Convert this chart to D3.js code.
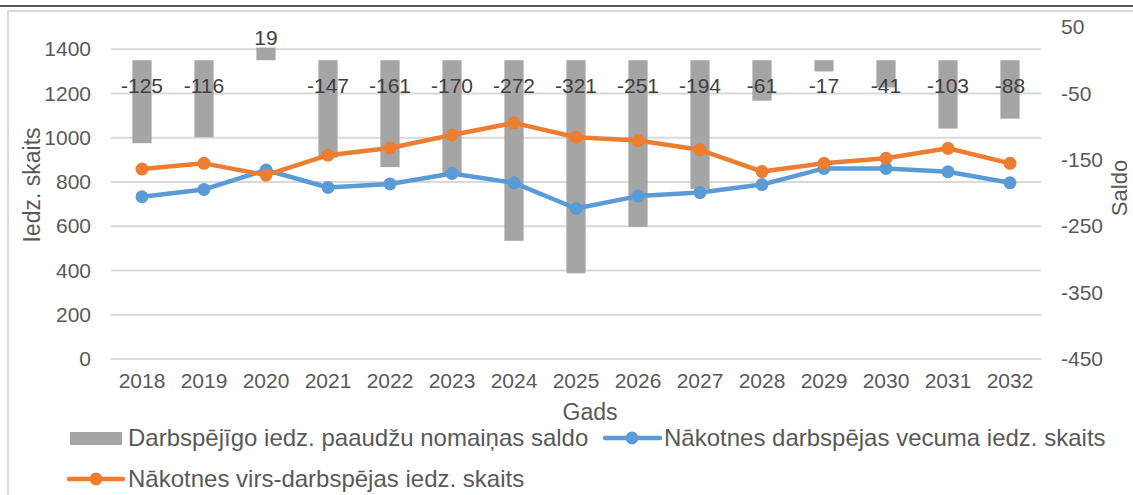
<!DOCTYPE html>
<html><head><meta charset="utf-8">
<script src="https://cdn.jsdelivr.net/npm/d3@7"></script>
<style>
html,body{margin:0;padding:0;background:#fff;}
svg{display:block;font-family:"Liberation Sans",Arial,sans-serif;}
</style></head>
<body><svg id="c" width="1133" height="495"></svg>
<script>
const years = ["2018","2019","2020","2021","2022","2023","2024","2025","2026","2027","2028","2029","2030","2031","2032"];
const saldo = [-125,-116,19,-147,-161,-170,-272,-321,-251,-194,-61,-17,-41,-103,-88];
const darbspejas = [733,766,854,775,791,838,796,680,736,752,788,861,861,846,796];
const virsDarbspejas = [858,884,831,921,953,1012,1067,1002,987,945,847,884,907,952,884];
const leftTicks = [0,200,400,600,800,1000,1200,1400];
const rightTicks = [50,-50,-150,-250,-350,-450];
const names = {
  bar: "Darbspējīgo iedz. paaudžu nomaiņas saldo",
  blue: "Nākotnes darbspējas vecuma iedz. skaits",
  orange: "Nākotnes virs-darbspējas iedz. skaits"
};

const svg = d3.select("#c");
const grey = "#a5a5a5", blue = "#5b9bd5", orange = "#ed7d31";
const txt = "#595959";
const fmt = d => String(d);
const tf = 21, tt = 23;

// chart frame
svg.append("rect").attr("x",8).attr("y",11).attr("width",1140).attr("height",500)
  .attr("fill","none").attr("stroke","#d9d9d9").attr("stroke-width",2);
svg.append("line").attr("x1",0).attr("x2",1133).attr("y1",6).attr("y2",6)
  .attr("stroke","#555").attr("stroke-width",2);

const x = d3.scaleBand().domain(years).range([111,1041]).padding(0);
const yL = d3.scaleLinear().domain([0,1500]).range([359,27]);
const yR = d3.scaleLinear().domain([-450,50]).range([359,27]);
const bw = x.bandwidth()*0.31;
const cx = d => x(d)+x.bandwidth()/2;

// gridlines
svg.append("g").selectAll("line").data(leftTicks).join("line")
  .attr("x1",x.range()[0]).attr("x2",x.range()[1])
  .attr("y1",d=>yL(d)).attr("y2",d=>yL(d))
  .attr("stroke","#d9d9d9").attr("stroke-width",2);

// left axis labels
const axL = svg.append("g").attr("transform","translate(91,0)")
  .call(d3.axisLeft(yL).tickValues(leftTicks).tickFormat(fmt).tickSize(0).tickPadding(0));
axL.select(".domain").remove();
axL.selectAll("text").attr("font-size",tf).attr("fill",txt).attr("font-family","Liberation Sans, Arial");

// right axis labels
const axR = svg.append("g").attr("transform","translate(1061,0)")
  .call(d3.axisRight(yR).tickValues(rightTicks).tickFormat(fmt).tickSize(0).tickPadding(0));
axR.select(".domain").remove();
axR.selectAll("text").attr("font-size",tf).attr("fill",txt).attr("font-family","Liberation Sans, Arial");

// x axis labels
const axX = svg.append("g").attr("transform","translate(0,373)")
  .call(d3.axisBottom(x).tickSize(0).tickPadding(0));
axX.select(".domain").remove();
axX.selectAll("text").attr("font-size",tf).attr("fill",txt).attr("font-family","Liberation Sans, Arial");

// bars
svg.append("g").selectAll("rect").data(years).join("rect")
  .attr("x",d=>cx(d)-bw/2).attr("width",bw)
  .attr("y",(d,i)=>Math.min(yR(0),yR(saldo[i])))
  .attr("height",(d,i)=>Math.abs(yR(saldo[i])-yR(0)))
  .attr("fill",grey);

// lines
function series(vals,color){
  const line = d3.line().x((d,i)=>cx(years[i])).y(d=>yL(d));
  svg.append("path").datum(vals).attr("d",line).attr("fill","none")
    .attr("stroke",color).attr("stroke-width",4.5).attr("stroke-linejoin","round").attr("stroke-linecap","round");
  svg.append("g").selectAll("circle").data(vals).join("circle")
    .attr("cx",(d,i)=>cx(years[i])).attr("cy",d=>yL(d)).attr("r",6.5).attr("fill",color);
}
series(darbspejas,blue);
series(virsDarbspejas,orange);

// bar labels
svg.append("g").selectAll("text").data(years).join("text")
  .attr("x",d=>cx(d))
  .attr("y",(d,i)=>saldo[i]<0 ? yR(0)+25 : yR(0)-23)
  .attr("dy","0.35em").attr("text-anchor","middle")
  .attr("font-size",21).attr("fill","#404040")
  .text((d,i)=>fmt(saldo[i]));

// axis titles
svg.append("text").attr("transform","translate(40,185) rotate(-90)")
  .attr("text-anchor","middle").attr("font-size",tt).attr("fill",txt).text("Iedz. skaits");
svg.append("text").attr("transform","translate(1127,188) rotate(-90)")
  .attr("text-anchor","middle").attr("font-size",22).attr("fill",txt).text("Saldo");
svg.append("text").attr("x",590).attr("y",420)
  .attr("text-anchor","middle").attr("font-size",tt).attr("fill",txt).text("Gads");

// legend
const lf = 24;
const lg = svg.append("g");
lg.append("rect").attr("x",70).attr("y",432).attr("width",52).attr("height",13).attr("fill",grey);
lg.append("text").attr("x",128).attr("y",438).attr("dy","0.35em").attr("font-size",lf).attr("fill",txt).text(names.bar);
lg.append("line").attr("x1",605).attr("x2",660).attr("y1",438).attr("y2",438).attr("stroke",blue).attr("stroke-width",4.5).attr("stroke-linecap","round");
lg.append("circle").attr("cx",632).attr("cy",438).attr("r",6.5).attr("fill",blue);
lg.append("text").attr("x",664).attr("y",438).attr("dy","0.35em").attr("font-size",lf).attr("fill",txt).text(names.blue);
lg.append("line").attr("x1",69).attr("x2",123).attr("y1",479).attr("y2",479).attr("stroke",orange).attr("stroke-width",4.5).attr("stroke-linecap","round");
lg.append("circle").attr("cx",96).attr("cy",479).attr("r",6.5).attr("fill",orange);
lg.append("text").attr("x",128).attr("y",479).attr("dy","0.35em").attr("font-size",lf).attr("fill",txt).text(names.orange);
</script></body></html>
